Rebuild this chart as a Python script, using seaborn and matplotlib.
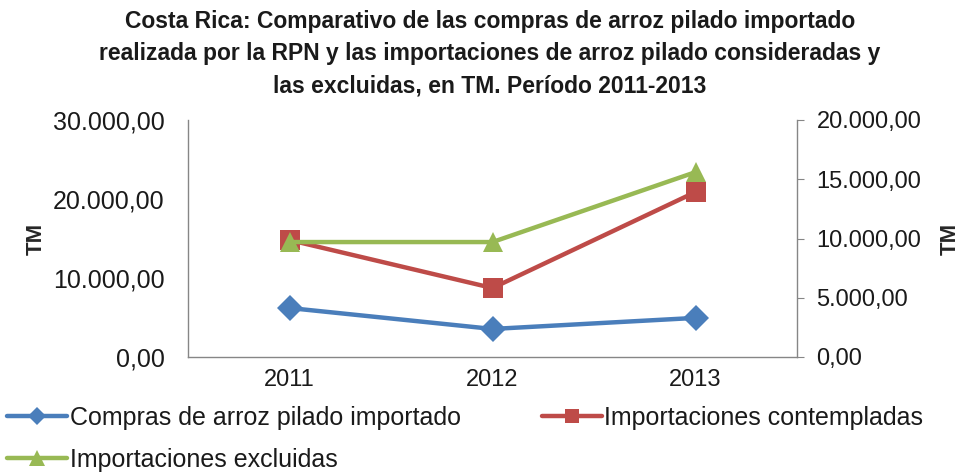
import matplotlib
matplotlib.use("Agg")
import matplotlib.pyplot as plt
import matplotlib.ticker as mticker
from matplotlib.lines import Line2D
import seaborn as sns
import pandas as pd

years = ["2011", "2012", "2013"]
compras = [6200, 3550, 4950]            # left axis
contempladas = [9870, 5820, 13920]      # right axis
excluidas = [9700, 9700, 15600]         # right axis

title = ("Costa Rica: Comparativo de las compras de arroz pilado importado\n"
         "realizada por la RPN y las importaciones de arroz pilado consideradas y\n"
         "las excluidas, en TM. Período 2011-2013")
labels = ["Compras de arroz pilado importado", "Importaciones contempladas",
          "Importaciones excluidas"]

sns.set_style("white")
plt.rcParams['font.family'] = ['Liberation Sans', 'DejaVu Sans']

BLUE, RED, GREEN = "#4A7EBB", "#BE4B48", "#98B954"
GRAY = "#868686"
TXT = "#1a1a1a"

fig = plt.figure(figsize=(9.64, 4.72), dpi=100)
ax = fig.add_axes([188/964, 1-357/472, (797-188)/964, (357-120)/472])
ax2 = ax.twinx()

x = list(range(len(years)))
df = pd.DataFrame({"x": x, "compras": compras, "cont": contempladas, "excl": excluidas})

sns.lineplot(data=df, x="x", y="compras", ax=ax, color=BLUE, lw=3.2,
             marker="D", markersize=13, markeredgewidth=0, legend=False)
sns.lineplot(data=df, x="x", y="cont", ax=ax2, color=RED, lw=3.2,
             marker="s", markersize=14, markeredgewidth=0, legend=False)
sns.lineplot(data=df, x="x", y="excl", ax=ax2, color=GREEN, lw=3.2,
             marker="^", markersize=15, markeredgewidth=0, legend=False)

ax.set_xlim(-0.5, 2.5)
ax.set_ylim(0, 30000)
ax2.set_ylim(0, 20000)
ax.set_xticks(x)
ax.set_xticklabels(years)
ax.set_yticks([0, 10000, 20000, 30000])
ax2.set_yticks([0, 5000, 10000, 15000, 20000])

def fmt(v, pos):
    s = f"{v:,.2f}"
    return s.replace(",", "X").replace(".", ",").replace("X", ".")

ax.yaxis.set_major_formatter(mticker.FuncFormatter(fmt))
ax2.yaxis.set_major_formatter(mticker.FuncFormatter(fmt))

for a in (ax, ax2):
    for s in a.spines.values():
        s.set_color(GRAY)
        s.set_linewidth(1)
    a.spines["top"].set_visible(False)
    a.set_xlabel("")
ax.spines["right"].set_visible(False)
ax2.spines["left"].set_visible(False)
ax2.spines["bottom"].set_visible(False)

ax.tick_params(axis="y", length=0, labelsize=18, colors=TXT, pad=17)
ax.tick_params(axis="x", length=0, labelsize=17, colors=TXT, pad=9)
ax2.tick_params(axis="y", length=5, labelsize=17, colors=TXT, pad=9, color=GRAY)
for t in ax2.get_yticklabels():
    t.set_color(TXT)

ax.set_ylabel("TM", fontsize=16, fontweight="bold", labelpad=4)
ax2.set_ylabel("TM", fontsize=16, fontweight="bold", labelpad=13)

fig.suptitle(title, x=490/964, y=1-10/472, fontsize=16.5, fontweight="bold",
             linespacing=1.5, va="top", color=TXT)

handles = [
    Line2D([], [], color=BLUE, lw=3.2, marker="D", markersize=9, markeredgewidth=0),
    Line2D([], [], color=RED, lw=3.2, marker="s", markersize=10, markeredgewidth=0),
    Line2D([], [], color=GREEN, lw=3.2, marker="^", markersize=11, markeredgewidth=0),
]
positions = [(0, 1-418/472), (534/964, 1-418/472), (0, 1-460/472)]
for h, lab, (px, py) in zip(handles, labels, positions):
    fig.legend([h], [lab], loc="center left", bbox_to_anchor=(px, py),
               frameon=False, fontsize=18, handlelength=2.4, handletextpad=0.1,
               borderaxespad=0, borderpad=0.3, labelcolor=TXT)

fig.savefig("out.png", dpi=100)
